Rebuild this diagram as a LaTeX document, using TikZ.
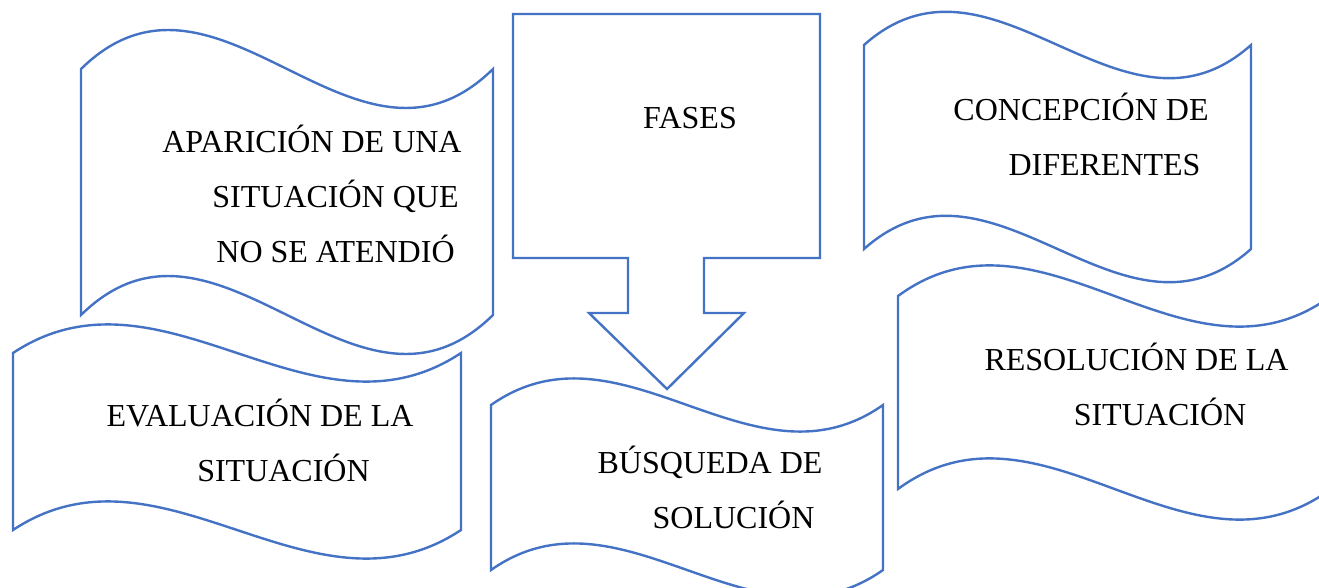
\documentclass[tikz,border=0pt]{standalone}
\usepackage{fontspec}
\setmainfont{Liberation Serif}
\usepackage{xcolor}
\usetikzlibrary{positioning}
\definecolor{wordblue}{RGB}{68, 114, 196}

% wave banner: x, y (top left), width, height, bend
\newcommand{\wavebanner}[5]{%
  \draw[banner] (#1,#2) .. controls ({#1+#3/3},{#2-#5}) and ({#1+2*#3/3},{#2+#5}) .. ({#1+#3},#2)
    -- ({#1+#3},{#2+#4}) .. controls ({#1+2*#3/3},{#2+#4+#5}) and ({#1+#3/3},{#2+#4-#5}) .. (#1,{#2+#4}) -- cycle;}
\newcommand{\ind}{\hspace*{47pt}}

\begin{document}
\begin{tikzpicture}[
    x=1pt, y=-1pt,
    banner/.style={draw=wordblue, line width=2.4pt, fill=white, line join=miter},
    phase/.style={font={\fontsize{32}{55}\selectfont}, align=center, anchor=base, inner sep=0pt}
]
\clip (0,0) rectangle (1319,588);

% Banners
\wavebanner{81}{69}{412}{246}{135}
\draw[banner] (513,14) -- (820,14) -- (820,258) -- (704,258) -- (704,313) -- (744,313)
  -- (667,389) -- (589,313) -- (628,313) -- (628,258) -- (513,258) -- cycle;
\wavebanner{864}{45}{387}{204}{115}
\wavebanner{13}{353}{448}{177}{99}
\wavebanner{491}{405}{392}{165}{92}
\wavebanner{898}{296}{433}{193}{106}

% Texts (anchored at the baseline of the last line)
\node (aparicion) [phase] at (312,262.7) {APARICIÓN DE UNA\\\ind SITUACIÓN QUE\\\ind NO SE ATENDIÓ};
\node (fases) [phase] at (690,129) {FASES};
\node (concepcion) [phase] at (1081,176) {CONCEPCIÓN DE\\\ind DIFERENTES};
\node (evaluacion) [phase] at (260,481) {EVALUACIÓN DE LA\\\ind SITUACIÓN};
\node (busqueda) [phase] at (710,528) {BÚSQUEDA DE\\\ind SOLUCIÓN};
\node (resolucion) [phase] at (1136.5,425) {RESOLUCIÓN DE LA\\\ind SITUACIÓN};

\end{tikzpicture}
\end{document}
